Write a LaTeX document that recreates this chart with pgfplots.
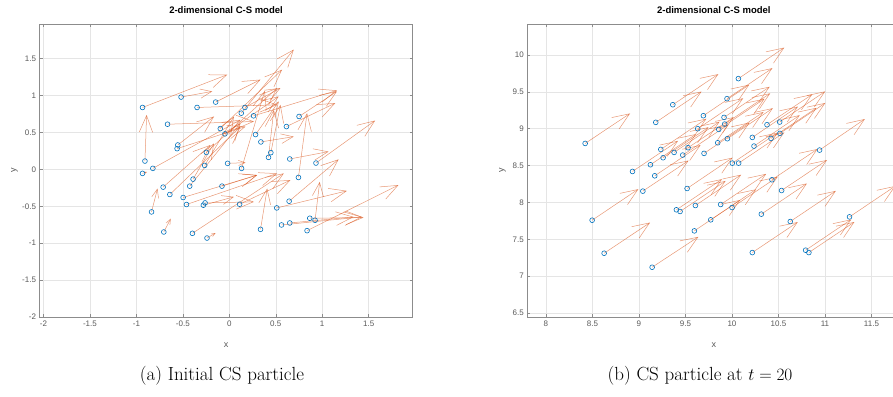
\documentclass[border=0pt]{standalone}
\usepackage{fontspec}
\usepackage{pgfplots}
\pgfplotsset{compat=1.18}
\usepackage{pgfplotstable}
\usetikzlibrary{arrows.meta}
\newfontfamily\mlfont{Liberation Sans}
\definecolor{mlblue}{rgb}{0,0.447,0.741}
\definecolor{mlorange}{rgb}{0.85,0.325,0.098}

\pgfplotstableread{
x y u v
-0.934 0.839 0.912 0.444
-0.519 0.980 0.336 0.077
-0.347 0.839 0.862 0.036
-0.147 0.912 0.483 0.304
0.168 0.839 0.383 0.263
0.129 0.762 0.565 0.862
0.261 0.726 0.898 0.344
0.751 0.717 0.408 0.340
-0.665 0.612 0.930 0.037
-0.097 0.553 0.665 0.798
-0.047 0.481 0.579 0.508
0.283 0.472 0.250 0.449
0.615 0.580 0.526 0.318
0.340 0.372 0.354 0.072
-0.554 0.331 0.390 0.386
-0.562 0.281 0.737 0.299
0.447 0.227 0.104 0.648
0.422 0.163 0.057 0.644
-0.247 0.231 0.762 0.871
-0.908 0.113 0.018 0.626
0.651 0.141 0.418 0.100
0.933 0.086 0.637 0.576
-0.823 0.014 0.944 0.658
-0.934 -0.054 0.050 0.020
-0.265 0.054 0.315 0.662
-0.018 0.082 0.193 0.009
0.132 0.014 0.250 1.050
-0.390 -0.132 0.225 0.485
-0.426 -0.227 0.547 0.853
-0.712 -0.240 0.511 0.571
-0.079 -0.227 0.379 0.150
-0.640 -0.340 0.762 0.921
0.744 -0.109 0.093 0.871
-0.497 -0.381 0.797 0.304
-0.461 -0.476 0.976 0.422
-0.261 -0.454 0.526 0.014
-0.279 -0.485 0.329 0.113
0.111 -0.472 0.547 0.327
0.644 -0.431 0.533 0.567
0.511 -0.522 0.755 0.231
-0.837 -0.576 0.064 0.317
0.866 -0.662 0.579 0.009
0.923 -0.689 0.050 0.521
0.651 -0.726 0.687 0.082
0.562 -0.753 0.866 0.109
-0.705 -0.848 0.075 0.181
-0.397 -0.866 0.984 0.812
0.336 -0.812 0.072 0.553
0.837 -0.830 0.984 0.617
-0.240 -0.930 0.093 0.068
}\leftdata

\pgfplotstableread{
x y u v
8.422 8.800 0.483 0.407
10.069 9.679 0.494 0.421
9.364 9.325 0.490 0.415
9.181 9.086 0.492 0.418
9.947 9.407 0.488 0.414
9.693 9.176 0.493 0.420
9.915 9.153 0.491 0.416
9.632 9.000 0.489 0.413
9.922 9.063 0.490 0.417
9.858 8.990 0.492 0.415
10.377 9.054 0.487 0.412
10.513 9.090 0.490 0.416
10.219 8.882 0.491 0.418
9.951 8.864 0.489 0.414
9.847 8.809 0.493 0.417
10.420 8.868 0.490 0.415
10.516 8.936 0.488 0.413
10.237 8.764 0.492 0.419
9.235 8.719 0.490 0.416
9.528 8.742 0.491 0.414
9.378 8.678 0.489 0.417
9.471 8.642 0.492 0.415
9.700 8.665 0.490 0.418
9.260 8.606 0.488 0.414
9.124 8.511 0.491 0.416
8.931 8.420 0.490 0.415
9.170 8.361 0.493 0.417
10.942 8.710 0.487 0.421
10.004 8.533 0.490 0.414
10.072 8.533 0.491 0.416
9.518 8.189 0.489 0.418
9.042 8.153 0.492 0.415
10.430 8.307 0.490 0.417
10.534 8.162 0.488 0.413
8.497 7.759 0.497 0.421
9.403 7.900 0.491 0.416
9.442 7.877 0.490 0.414
9.607 7.958 0.492 0.418
9.879 7.972 0.489 0.415
10.001 7.931 0.491 0.417
10.316 7.841 0.490 0.416
9.772 7.764 0.488 0.414
9.596 7.614 0.493 0.419
10.627 7.741 0.490 0.415
11.264 7.804 0.492 0.418
8.626 7.311 0.494 0.416
10.219 7.320 0.489 0.414
10.792 7.352 0.491 0.417
10.827 7.320 0.490 0.415
9.142 7.121 0.497 0.412
}\rightdata

\pgfplotsset{
  mlaxis/.style={
    scale only axis, width=373pt, height=293pt, anchor=south west,
    axis line style={black!45, line width=0.5pt},
    grid=major, major grid style={black!10, line width=0.5pt},
    tick align=inside, major tick length=3pt,
    tick style={black!45, line width=0.5pt},
    ticklabel style={font=\mlfont\fontsize{8}{10}\selectfont, text=black!65},
    label style={font=\mlfont\fontsize{9}{11}\selectfont, text=black!65},
    xlabel={x}, ylabel={y},
    xlabel style={at={(axis description cs:0.5,-0.095)}, anchor=center},
    ylabel style={at={(axis description cs:-0.067,0.5)}, anchor=center},
    title={2-dimensional C-S model},
    title style={at={(axis description cs:0.5,1.028)}, anchor=center,
      font=\mlfont\bfseries\fontsize{9.5}{11}\selectfont},
  },
  mlquiver/.style={
    mlorange, opacity=0.6, line width=0.5pt, no markers,
    point meta={sqrt((93*\thisrow{u})^2+(73.5*\thisrow{v})^2)},
    point meta min=0, point meta max=200,
    quiver={u=\thisrow{u}, v=\thisrow{v},
      every arrow/.append style={
        /utils/exec={\pgfmathsetmacro\hl{min(0.36*\pgfplotspointmetatransformed/5,17)}\pgfmathsetmacro\hw{0.8*\hl}},
        -{Straight Barb[length=\hl pt,width=\hw pt]}}},
  },
  mlcircles/.style={only marks, mark=o, mlblue, mark size=2.4pt, mark options={line width=0.6pt}},
}

\begin{document}
\begin{tikzpicture}
\useasboundingbox (0,0) rectangle (893pt,396pt);
\begin{axis}[mlaxis, at={(39.5pt,79pt)},
  xmin=-2.043, xmax=1.972, ymin=-2, ymax=1.97,
  xtick={-2,-1.5,-1,-0.5,0,0.5,1,1.5},
  xticklabels={-2,-1.5,-1,-0.5,0,0.5,1,1.5},
  ytick={-2,-1.5,-1,-0.5,0,0.5,1,1.5},
  yticklabels={-2,-1.5,-1,-0.5,0,0.5,1,1.5}]
\addplot[mlquiver] table[x=x,y=y] {\leftdata};
\addplot[mlcircles] table[x=x,y=y] {\leftdata};
\end{axis}
\begin{axis}[mlaxis, at={(527.3pt,79pt)},
  xmin=7.80, xmax=11.81, ymin=6.446, ymax=10.42,
  xtick={8,8.5,9,9.5,10,10.5,11,11.5},
  xticklabels={8,8.5,9,9.5,10,10.5,11,11.5},
  ytick={6.5,7,7.5,8,8.5,9,9.5,10},
  yticklabels={6.5,7,7.5,8,8.5,9,9.5,10}]
\addplot[mlquiver] table[x=x,y=y] {\rightdata};
\addplot[mlcircles] table[x=x,y=y] {\rightdata};
\end{axis}
\node[font=\fontsize{19}{23}\selectfont] at (222pt,20pt) {(a) Initial CS particle};
\node[font=\fontsize{19}{23}\selectfont] at (700pt,20pt) {(b) CS particle at $t=20$};
\end{tikzpicture}
\end{document}
